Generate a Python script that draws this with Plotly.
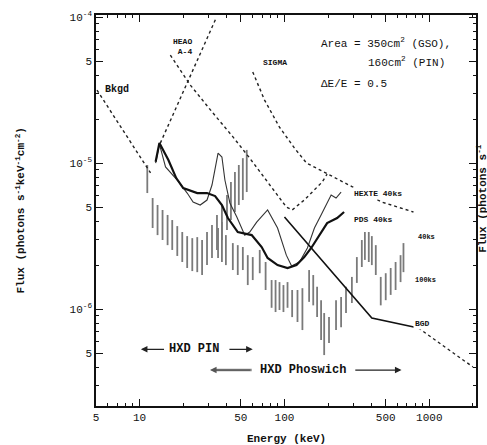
import numpy as np
import plotly.graph_objects as go

# ---- Reference curves (energy in keV, flux in photons s^-1 keV^-1 cm^-2) ----
bkgd_e = [5.08, 11.9]
bkgd_f = [3.16e-5, 8.55e-6]

heao_rise_e = [13.9, 34.0]
heao_rise_f = [1.37e-5, 1.0e-4]

heao_e = [16.3, 22.4, 32.1, 44.1, 57.6, 78.9, 103, 113, 137, 182, 197]
heao_f = [5.49e-5, 3.42e-5, 2.20e-5, 1.51e-5, 1.08e-5, 7.07e-6, 5.0e-6, 4.77e-6, 5.58e-6, 7.41e-6, 8.4e-6]

sigma_e = [60.4, 72.9, 92.4, 117, 142, 203, 279, 469, 777]
sigma_f = [4.20e-5, 2.70e-5, 1.76e-5, 1.27e-5, 1.0e-5, 8.28e-6, 7.07e-6, 5.41e-6, 4.62e-6]

pds_e = [12.9, 13.7, 15.8, 17.9, 20.0, 25.0, 29.2, 33.2, 37.0, 40.7, 47.6, 59.4, 69.6,
         76.5, 89.6, 105, 121, 137, 153, 179, 197, 231, 258]
pds_f = [1.02e-5, 1.37e-5, 1.05e-5, 7.89e-6, 6.74e-6, 6.23e-6, 6.23e-6, 5.94e-6, 5.16e-6,
         4.20e-6, 3.37e-6, 3.21e-6, 2.66e-6, 2.24e-6, 2.00e-6, 1.91e-6, 2.00e-6, 2.27e-6,
         2.62e-6, 3.37e-6, 3.88e-6, 4.20e-6, 4.62e-6]

hexte_e = [12.9, 13.7, 15.1, 18.2, 21.3, 23.4, 26.2, 29.2, 31.6, 34.8, 37.0, 38.8, 42.0,
           46.9, 53.2, 57.6, 64.3, 76.5, 89.6, 103, 112, 127, 144, 161, 179, 197, 210, 227, 246]
hexte_f = [1.0e-5, 1.35e-5, 9.4e-6, 7.65e-6, 6.23e-6, 5.41e-6, 5.16e-6, 5.58e-6, 7.07e-6,
           1.17e-5, 1.10e-5, 7.65e-6, 5.33e-6, 4.27e-6, 3.21e-6, 3.37e-6, 3.94e-6, 4.77e-6,
           3.59e-6, 2.34e-6, 1.97e-6, 2.10e-6, 2.62e-6, 3.59e-6, 4.41e-6, 5.41e-6, 6.04e-6,
           5.76e-6, 6.33e-6]

bgd_e = [100, 401, 841]
bgd_f = [4.27e-6, 8.68e-7, 7.41e-7]
bgd_ext_e = [841, 2000]
bgd_ext_f = [7.41e-7, 4.01e-7]

# ---- HXD sensitivity ranges: top = 40 ks, bottom = 100 ks ----
pin_e = [11.3, 12.3, 13.3, 14.4, 15.6, 16.8, 18.2, 19.7, 21.3, 23.1, 25.0, 27.0, 29.2,
         31.6, 34.2, 37.0, 40.1, 42.7, 45.5, 48.4, 51.6, 54.9]
pin_top = [9.7e-6, 5.76e-6, 5.16e-6, 4.77e-6, 4.41e-6, 4.07e-6, 3.70e-6, 3.37e-6, 3.16e-6,
           3.06e-6, 3.11e-6, 2.97e-6, 3.37e-6, 3.76e-6, 4.41e-6, 5.16e-6, 6.04e-6, 7.41e-6,
           8.68e-6, 9.7e-6, 1.08e-5, 1.23e-5]
pin_bot = [6.23e-6, 3.59e-6, 3.21e-6, 2.97e-6, 2.74e-6, 2.54e-6, 2.31e-6, 2.10e-6, 1.91e-6,
           1.82e-6, 1.79e-6, 1.71e-6, 2.00e-6, 2.24e-6, 2.54e-6, 2.97e-6, 3.48e-6, 4.07e-6,
           4.62e-6, 5.16e-6, 5.58e-6, 6.33e-6]

gso_e = [34.8, 37.0, 39.4, 44.0, 47.6, 51.6, 55.8, 60.4, 67.5, 74.1, 81.5, 86.8, 92.4, 98.4,
         105, 113, 123, 133, 148, 158, 168, 179, 188, 203, 227, 246, 266, 292, 316, 342,
         359, 382, 401, 427, 462, 500, 541, 585, 633, 663]
gso_top = [3.59e-6, 3.94e-6, 3.21e-6, 2.83e-6, 2.74e-6, 2.66e-6, 2.34e-6, 2.27e-6, 2.54e-6,
           2.10e-6, 1.58e-6, 1.58e-6, 1.53e-6, 1.46e-6, 1.53e-6, 1.35e-6, 1.35e-6, 1.39e-6,
           1.85e-6, 1.71e-6, 1.42e-6, 1.15e-6, 9.39e-7, 8.81e-7, 1.15e-6, 1.21e-6, 1.42e-6,
           1.66e-6, 2.27e-6, 2.97e-6, 3.37e-6, 3.37e-6, 3.16e-6, 2.74e-6, 1.66e-6, 1.76e-6,
           1.91e-6, 2.10e-6, 2.34e-6, 2.83e-6]
gso_bot = [2.24e-6, 2.10e-6, 2.00e-6, 1.85e-6, 1.71e-6, 1.85e-6, 1.46e-6, 1.58e-6, 1.76e-6,
           1.35e-6, 1.02e-6, 9.54e-7, 9.85e-7, 9.54e-7, 1.02e-6, 8.81e-7, 8.15e-7, 7.18e-7,
           1.12e-6, 1.06e-6, 8.81e-7, 6.14e-7, 4.84e-7, 5.85e-7, 7.18e-7, 7.52e-7, 9.39e-7,
           1.10e-6, 1.51e-6, 1.94e-6, 2.17e-6, 2.10e-6, 2.00e-6, 1.71e-6, 1.06e-6, 1.15e-6,
           1.25e-6, 1.35e-6, 1.53e-6, 1.79e-6]

# ---- Energy bands of the two HXD detectors ----
pin_band = [10.2, 60.4]
gso_band = [30.6, 643]
pin_band_f = 5.3e-7
gso_band_f = 3.82e-7

# ---- Axis ticks ----
x_tickvals = [5, 10, 50, 100, 500, 1000]
x_ticktext = ["5", "10", "50", "100", "500", "1000"]
x_minor = [6, 7, 8, 9, 20, 30, 40, 60, 70, 80, 90, 200, 300, 400, 600, 700, 800, 900, 2000]
y_tickvals = [5e-7, 1e-6, 5e-6, 1e-5, 5e-5, 1e-4]
y_ticktext = ["5", "10<sup>-6</sup>", "5", "10<sup>-5</sup>", "5", "10<sup>-4</sup>"]
y_minor = [3e-7, 4e-7, 6e-7, 7e-7, 8e-7, 9e-7, 2e-6, 3e-6, 4e-6, 6e-6, 7e-6, 8e-6, 9e-6,
           2e-5, 3e-5, 4e-5, 6e-5, 7e-5, 8e-5, 9e-5]

MONO = "Liberation Mono"
L = np.log10


def segments(xs, tops, bots):
    sx, sy = [], []
    for e, t, b in zip(xs, tops, bots):
        sx += [e, e, None]
        sy += [t, b, None]
    return sx, sy


fig = go.Figure()

px_, py_ = segments(pin_e, pin_top, pin_bot)
fig.add_trace(go.Scatter(x=px_, y=py_, mode="lines", line=dict(color="#7a7a7a", width=1.8),
                         hoverinfo="skip"))
gx_, gy_ = segments(gso_e, gso_top, gso_bot)
fig.add_trace(go.Scatter(x=gx_, y=gy_, mode="lines", line=dict(color="#7a7a7a", width=1.8),
                         hoverinfo="skip"))

dash = "3px,3px"
for xs, ys in [(bkgd_e, bkgd_f), (heao_rise_e, heao_rise_f), (heao_e, heao_f),
               (sigma_e, sigma_f), (bgd_ext_e, bgd_ext_f)]:
    fig.add_trace(go.Scatter(x=xs, y=ys, mode="lines",
                             line=dict(color="#222", width=1.4, dash=dash)))

fig.add_trace(go.Scatter(x=hexte_e, y=hexte_f, mode="lines",
                         line=dict(color="#333", width=1.1)))
fig.add_trace(go.Scatter(x=pds_e, y=pds_f, mode="lines",
                         line=dict(color="#111", width=2.2)))
fig.add_trace(go.Scatter(x=bgd_e, y=bgd_f, mode="lines",
                         line=dict(color="#111", width=1.6)))

# Thick grey lead-in of the phoswich band
fig.add_trace(go.Scatter(x=[gso_band[0] * 1.08, 59.4], y=[gso_band_f, gso_band_f], mode="lines",
                         line=dict(color="#888", width=2.6)))

ann = []


def label(e, f, text, size=9, anchor="left", bold=True, bg=None):
    t = f"<b>{text}</b>" if bold else text
    d = dict(x=L(e), y=L(f), xref="x", yref="y", text=t, showarrow=False,
             xanchor=anchor, yanchor="middle",
             font=dict(family=MONO, size=size, color="#111"))
    if bg:
        d["bgcolor"] = bg
    ann.append(d)


label(5.6, 3.2e-5, "Bkgd", 10)
label(16.6, 6.3e-5, "HEAO<br> A-4", 8)
label(69, 4.9e-5, "SIGMA", 8)
label(292, 6.23e-6, "HEXTE 40ks", 8, bg="white")
label(292, 4.13e-6, "PDS 40ks", 8, bg="white")
label(815, 3.11e-6, "40ks", 7)
label(777, 1.58e-6, "100ks", 7)
label(777, 8.0e-7, "BGD", 8, bg="white")
label(172, 6.63e-5, "Area = 350cm<sup>2</sup> (GSO),", 11, bold=False)
label(368, 4.92e-5, "160cm<sup>2</sup> (PIN)", 11, bold=False)
label(172, 3.47e-5, "\u0394E/E = 0.5", 11, bold=False)

# Energy-band arrows
for tail, head, yv, col in [(15.1, pin_band[0], pin_band_f, "#222"),
                            (40.7, pin_band[1], pin_band_f, "#222"),
                            (59.4, gso_band[0], gso_band_f, "#555"),
                            (301, gso_band[1], gso_band_f, "#222")]:
    ann.append(dict(x=L(head), y=L(yv), ax=L(tail), ay=L(yv), xref="x", yref="y",
                    axref="x", ayref="y", text="", showarrow=True, arrowhead=2,
                    arrowsize=1.1, arrowwidth=1.2, arrowcolor=col))
label(23.8, pin_band_f, "HXD PIN", 12, anchor="center")
label(135, gso_band_f, "HXD Phoswich", 12, anchor="center")

# Axis titles
ann.append(dict(x=0.5, y=-0.085, xref="paper", yref="paper", text="<b>Energy (keV)</b>",
                showarrow=False, xanchor="center", yanchor="middle",
                font=dict(family=MONO, size=11, color="#111")))
ann.append(dict(x=-0.2, y=0.5, xref="paper", yref="paper", textangle=-90,
                text="<b>Flux (photons s<sup>-1</sup>keV<sup>-1</sup>cm<sup>-2</sup>)</b>",
                showarrow=False, xanchor="center", yanchor="middle",
                font=dict(family=MONO, size=11, color="#111")))
# Edge of the neighbouring panel
ann.append(dict(x=1.016, y=0.53, xref="paper", yref="paper", textangle=-90,
                text="<b>Flux (photons s<sup>-1</sup></b>", showarrow=False,
                xanchor="center", yanchor="middle",
                font=dict(family=MONO, size=11, color="#111")))

axis_common = dict(showline=True, linecolor="#111", linewidth=1.5, mirror="allticks",
                   ticks="inside", ticklen=7, tickwidth=1.2, tickcolor="#111",
                   showgrid=False, zeroline=False,
                   tickfont=dict(family=MONO, size=11, color="#111"))

fig.update_layout(
    width=487, height=445,
    margin=dict(l=96, r=9, t=15, b=39),
    paper_bgcolor="white", plot_bgcolor="white",
    showlegend=False,
    annotations=ann,
    xaxis=dict(type="log", range=[L(5), L(2100)], tickmode="array",
               tickvals=x_tickvals, ticktext=x_ticktext,
               minor=dict(tickmode="array", tickvals=x_minor, ticks="inside",
                          ticklen=3.5, tickcolor="#111", showgrid=False),
               **axis_common),
    yaxis=dict(type="log", range=[-6.664, -3.986], tickmode="array",
               tickvals=y_tickvals, ticktext=y_ticktext,
               minor=dict(tickmode="array", tickvals=y_minor, ticks="inside",
                          ticklen=3.5, tickcolor="#111", showgrid=False),
               **axis_common),
)

fig.write_html("out.html")
